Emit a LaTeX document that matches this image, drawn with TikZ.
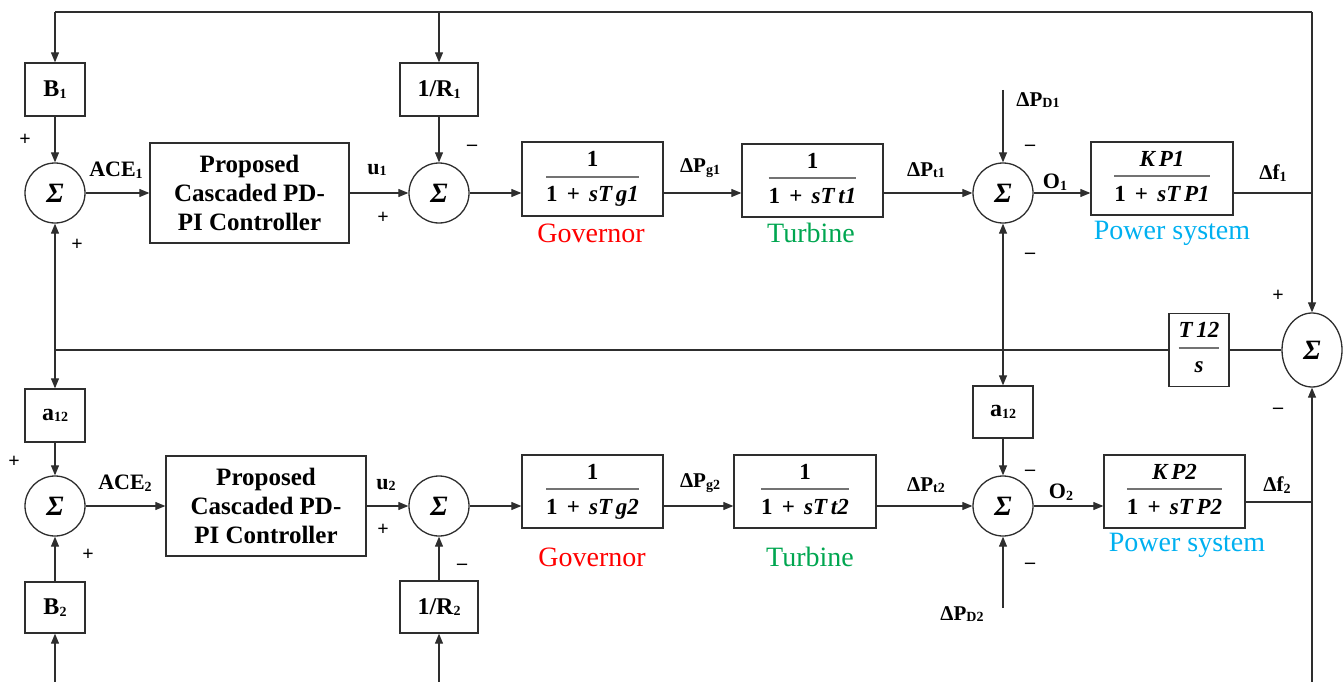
\documentclass[tikz,border=0pt]{standalone}
\usepackage{fontspec}
\setmainfont{Liberation Serif}
\usepackage{colortbl}
\usetikzlibrary{arrows.meta,shapes.geometric}
\definecolor{govred}{RGB}{255,0,0}
\definecolor{turbgreen}{RGB}{0,166,80}
\definecolor{pscyan}{RGB}{0,176,240}
\setlength{\arrayrulewidth}{1.6pt}
\arrayrulecolor{black!55}
\newcommand{\sbs}[1]{\raisebox{-1.5pt}{\fontsize{14}{14}\selectfont #1}}
\newcommand{\myfr}[2]{\begin{tabular}{@{}c@{}}#1\rule[-9pt]{0pt}{9pt}\\\hline\rule{0pt}{24pt}#2\end{tabular}}
\newcommand{\pls}{\hspace{0.4em}+\hspace{0.4em}}
\begin{document}
\begin{tikzpicture}[x=1pt,y=-1pt,
  line/.style={line width=1.1pt, draw=black!82},
  arr/.style={line, -{Triangle[length=10pt,width=8pt]}},
  blk/.style={draw=black!82, line width=1.3pt, inner sep=0pt, align=center, font=\fontsize{24}{28}\selectfont\bfseries},
  ctl/.style={font=\fontsize{25}{29}\selectfont\bfseries},
  frc/.style={font=\fontsize{23}{26}\selectfont\bfseries},
  sumc/.style={circle, draw=black!82, line width=1.3pt, minimum size=60pt, inner sep=0pt, font=\fontsize{28}{30}\selectfont\bfseries\itshape},
  lbl/.style={inner sep=0pt, font=\fontsize{22}{24}\selectfont\bfseries},
  dlbl/.style={inner sep=0pt, font=\fontsize{21}{24}\selectfont\bfseries},
  sgn/.style={inner sep=0pt, font=\fontsize{20}{20}\selectfont\bfseries},
  captxt/.style={inner sep=0pt, font=\fontsize{28}{30}\selectfont}
]
\useasboundingbox (0,0) rectangle (1343,682);

% ---------------- Area 1 ----------------
\node[blk, minimum width=60pt, minimum height=53pt] (B1) at (55,89.5) {B\sbs{1}};
\node[blk, minimum width=78pt, minimum height=53pt] (R1) at (439,89.5) {1/R\sbs{1}};
\node[sumc] (S1) at (55,193) {Σ};
\node[blk, ctl, minimum width=199pt, minimum height=100pt] (C1) at (249.5,193) {Proposed\\Cascaded PD-\\PI Controller};
\node[sumc] (S2) at (439,193) {Σ};
\node[blk, frc, minimum width=141pt, minimum height=74pt] (G1) at (592.5,179) {\myfr{1}{1\pls{\itshape sT\,g1}}};
\node[blk, frc, minimum width=141pt, minimum height=73pt] (T1) at (812.5,180.5) {\myfr{1}{1\pls{\itshape sT\,t1}}};
\node[sumc] (S3) at (1003,193) {Σ};
\node[blk, frc, minimum width=142pt, minimum height=73pt] (P1) at (1162,178.5) {\myfr{\itshape K\,P1}{1\pls{\itshape sT\,P1}}};

% ---------------- Tie line ----------------
\node[blk, frc, minimum width=60pt, minimum height=73pt] (TT) at (1199,350) {\myfr{\itshape T\,12}{\itshape s}};
\node[ellipse, draw=black!82, line width=1.3pt, minimum width=60pt, minimum height=74pt, inner sep=0pt, font=\fontsize{28}{30}\selectfont\bfseries\itshape] (S5) at (1312,350) {Σ};

% ---------------- Area 2 ----------------
\node[blk, minimum width=60pt, minimum height=53pt] (A2L) at (55,415.5) {a\sbs{12}};
\node[sumc] (S4) at (55,506) {Σ};
\node[blk, minimum width=60pt, minimum height=51pt] (B2) at (55,607.5) {B\sbs{2}};
\node[blk, ctl, minimum width=200pt, minimum height=100pt] (C2) at (266,506) {Proposed\\Cascaded PD-\\PI Controller};
\node[sumc] (S6) at (439,506) {Σ};
\node[blk, minimum width=78pt, minimum height=52pt] (R2) at (439,607) {1/R\sbs{2}};
\node[blk, frc, minimum width=141pt, minimum height=73pt] (G2) at (592.5,491.5) {\myfr{1}{1\pls{\itshape sT\,g2}}};
\node[blk, frc, minimum width=142pt, minimum height=73pt] (T2) at (805,491.5) {\myfr{1}{1\pls{\itshape sT\,t2}}};
\node[blk, minimum width=60pt, minimum height=52pt] (A2R) at (1003,412) {a\sbs{12}};
\node[sumc] (S7) at (1003,506) {Σ};
\node[blk, frc, minimum width=141pt, minimum height=73pt] (P2) at (1174.5,491.5) {\myfr{\itshape K\,P2}{1\pls{\itshape sT\,P2}}};

% ---------------- coordinates ----------------
\coordinate (tl) at (55,12);
\coordinate (tm) at (439,12);
\coordinate (tr) at (1312,12);
\coordinate (f1) at (1312,193);
\coordinate (f2) at (1312,502);
\coordinate (bb) at (1312,682);
\coordinate (tieL) at (55,350);
\coordinate (tieM) at (1003,350);
\coordinate (pd1) at (1003,90);
\coordinate (pd2) at (1003,608);
\coordinate (bl) at (55,682);
\coordinate (bm) at (439,682);

% ---------------- connectors area 1 ----------------
\draw[line] (tl) -- (tr);
\draw[arr] (tl) -- (B1.north);
\draw[arr] (tm) -- (R1.north);
\draw[arr] (tr) -- (S5.north);
\draw[arr] (B1.south) -- (S1.north);
\draw[arr] (R1.south) -- (S2.north);
\draw[arr] (S1.east) -- (C1.west);
\draw[arr] (C1.east) -- (S2.west);
\draw[arr] (S2.east) -- (S2 -| G1.west);
\draw[arr] (S2 -| G1.east) -- (S2 -| T1.west);
\draw[arr] (S2 -| T1.east) -- (S3.west);
\draw[arr] (pd1) -- (S3.north);
\draw[arr] (S3.east) -- (S3 -| P1.west);
\draw[line] (f1 -| P1.east) -- (f1);

% ---------------- tie connectors ----------------
\draw[line] (TT.west) -- (tieL);
\draw[arr] (tieL) -- (S1.south);
\draw[arr] (tieL) -- (A2L.north);
\draw[arr] (tieM) -- (S3.south);
\draw[arr] (tieM) -- (A2R.north);
\draw[line] (TT.east) -- (S5.west);
\draw[arr] (bb) -- (S5.south);

% ---------------- connectors area 2 ----------------
\draw[arr] (A2L.south) -- (S4.north);
\draw[arr] (B2.north) -- (S4.south);
\draw[arr] (bl) -- (B2.south);
\draw[arr] (S4.east) -- (C2.west);
\draw[arr] (C2.east) -- (S6.west);
\draw[arr] (R2.north) -- (S6.south);
\draw[arr] (bm) -- (R2.south);
\draw[arr] (S6.east) -- (S6 -| G2.west);
\draw[arr] (S6 -| G2.east) -- (S6 -| T2.west);
\draw[arr] (S6 -| T2.east) -- (S7.west);
\draw[arr] (A2R.south) -- (S7.north);
\draw[arr] (pd2) -- (S7.south);
\draw[arr] (S7.east) -- (S7 -| P2.west);
\draw[line] (f2 -| P2.east) -- (f2);

% ---------------- labels area 1 ----------------
\node[sgn] (p1) at (25,140) {+};
\node[sgn] (p2) at (77,245) {+};
\node[lbl] (ace1) at (116,170) {ACE\sbs{1}};
\node[lbl] (u1) at (377,170) {u\sbs{1}};
\node[sgn] (p3) at (383,218) {+};
\node[sgn] (m1) at (472,148) {\textendash};
\node[dlbl] (dpg1) at (700,168) {ΔP\sbs{g1}};
\node[dlbl] (dpt1) at (926,170) {ΔP\sbs{t1}};
\node[sgn] (m2) at (1030,148) {\textendash};
\node[sgn] (m3) at (1030,256) {\textendash};
\node[dlbl] (dpd1) at (1038,100) {ΔP\sbs{D1}};
\node[lbl] (o1) at (1055,182) {O\sbs{1}};
\node[dlbl] (df1) at (1273,173) {Δf\sbs{1}};
\node[captxt, text=govred] (gov1) at (591,233) {Governor};
\node[captxt, text=turbgreen] (tur1) at (811,233) {Turbine};
\node[captxt, text=pscyan] (ps1) at (1172,233) {Power system};

% ---------------- labels tie ----------------
\node[sgn] (p4) at (1278,296) {+};
\node[sgn] (m4) at (1278,411) {\textendash};

% ---------------- labels area 2 ----------------
\node[sgn] (p5) at (14,462) {+};
\node[sgn] (p6) at (88,555) {+};
\node[lbl] (ace2) at (125,483) {ACE\sbs{2}};
\node[lbl] (u2) at (386,485) {u\sbs{2}};
\node[sgn] (p7) at (383,530) {+};
\node[sgn] (m5) at (462,567) {\textendash};
\node[dlbl] (dpg2) at (700,483) {ΔP\sbs{g2}};
\node[dlbl] (dpt2) at (926,485) {ΔP\sbs{t2}};
\node[sgn] (m6) at (1030,473) {\textendash};
\node[sgn] (m7) at (1030,566) {\textendash};
\node[dlbl] (dpd2) at (962,614) {ΔP\sbs{D2}};
\node[lbl] (o2) at (1061,492) {O\sbs{2}};
\node[dlbl] (df2) at (1277,485) {Δf\sbs{2}};
\node[captxt, text=govred] (gov2) at (592,557) {Governor};
\node[captxt, text=turbgreen] (tur2) at (810,557) {Turbine};
\node[captxt, text=pscyan] (ps2) at (1187,545) {Power system};
\end{tikzpicture}
\end{document}
